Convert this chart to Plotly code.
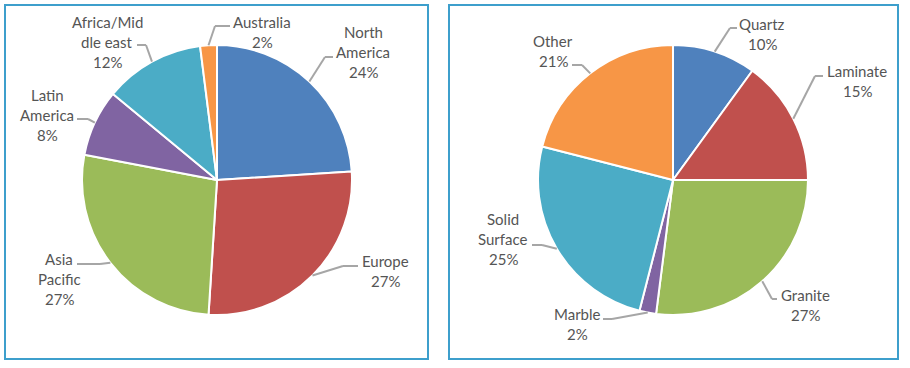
import math
import plotly.graph_objects as go

# ---------------- data ----------------
region_names = ["North America", "Europe", "Asia Pacific", "Latin America", "Africa/Middle east", "Australia"]
region_share = [24, 27, 27, 8, 12, 2]
region_label_lines = [["North", "America"], ["Europe"], ["Asia", "Pacific"], ["Latin", "America"],
                      ["Africa/Mid", "dle east"], ["Australia"]]

material_names = ["Quartz", "Laminate", "Granite", "Marble", "Solid Surface", "Other"]
material_share = [10, 15, 27, 2, 25, 21]
material_label_lines = [["Quartz"], ["Laminate"], ["Granite"], ["Marble"], ["Solid", "Surface"], ["Other"]]

colors = ["#4F81BD", "#C0504D", "#9BBB59", "#8064A2", "#4BACC6", "#F79646"]

# ---------------- layout helpers ----------------
W, H = 910, 368
R = 135
TEXT = "#555555"
LEADER = "#A6A6A6"
FONT = "Lato"
FS = 15
LINE_H = 20


def px(x):
    return x / W


def py(y):
    return 1 - y / H


# label layout per slice: (text center x, first line center y, elbow x, elbow y, end x)
left_center = (217, 180)
left_labels = [
    (363, 32, 325, 57, 333),
    (385, 261, 343, 266, 358),
    (59, 259, 100, 264, 77),
    (47, 95, 88, 119, 77),
    (107, 22, 146, 45, 137),
    (262, 22, 215, 26, 230),
]
right_center = (673, 180)
right_labels = [
    (762, 24, 730, 28, 737),
    (857, 71, 815, 76, 823),
    (805, 295, 772, 299, 777),
    (577, 314, 612, 319, 603),
    (503, 219, 542, 245, 532),
    (553, 41, 582, 65, 572),
]

fig = go.Figure()
annotations = []
shapes = []


def add_pie(names, values, center, label_lines, label_pos):
    cx, cy = center
    fig.add_trace(go.Pie(
        labels=names, values=values, sort=False, direction="clockwise", rotation=0,
        marker=dict(colors=colors, line=dict(color="white", width=2)),
        textinfo="none", hoverinfo="label+percent", showlegend=False,
        domain=dict(x=[px(cx - R), px(cx + R)], y=[py(cy + R), py(cy - R)]),
    ))
    total = sum(values)
    cum = 0
    for v, lines, pos in zip(values, label_lines, label_pos):
        mid = (cum + v / 2) / total * 2 * math.pi
        cum += v
        sx = cx + R * math.sin(mid)
        sy = cy - R * math.cos(mid)
        tx, ty, ex, ey, endx = pos
        shapes.append(dict(type="line", xref="paper", yref="paper",
                           x0=px(sx), y0=py(sy), x1=px(ex), y1=py(ey),
                           line=dict(color=LEADER, width=2)))
        shapes.append(dict(type="line", xref="paper", yref="paper",
                           x0=px(ex), y0=py(ey), x1=px(endx), y1=py(ey),
                           line=dict(color=LEADER, width=2)))
        all_lines = lines + [f"{round(v / total * 100)}%"]
        for i, t in enumerate(all_lines):
            annotations.append(dict(
                x=px(tx), y=py(ty + i * LINE_H), xref="paper", yref="paper",
                text=t, showarrow=False, xanchor="center", yanchor="middle",
                font=dict(family=FONT, size=FS, color=TEXT),
            ))


add_pie(region_names, region_share, left_center, region_label_lines, left_labels)
add_pie(material_names, material_share, right_center, material_label_lines, right_labels)

# panel borders
BORDER = "#3D9FCC"
shapes.append(dict(type="rect", xref="paper", yref="paper",
                   x0=px(5), y0=py(359), x1=px(428), y1=py(5),
                   line=dict(color=BORDER, width=2), layer="below"))
shapes.append(dict(type="rect", xref="paper", yref="paper",
                   x0=px(449), y0=py(359), x1=px(898), y1=py(5),
                   line=dict(color=BORDER, width=2), layer="below"))

fig.update_layout(
    width=W, height=H,
    margin=dict(l=0, r=0, t=0, b=0),
    paper_bgcolor="white", plot_bgcolor="white",
    shapes=shapes, annotations=annotations,
    showlegend=False,
)

fig.write_html("out.html", config={"displayModeBar": False},
               post_script="document.body.style.margin='0';document.body.style.overflow='hidden';")
